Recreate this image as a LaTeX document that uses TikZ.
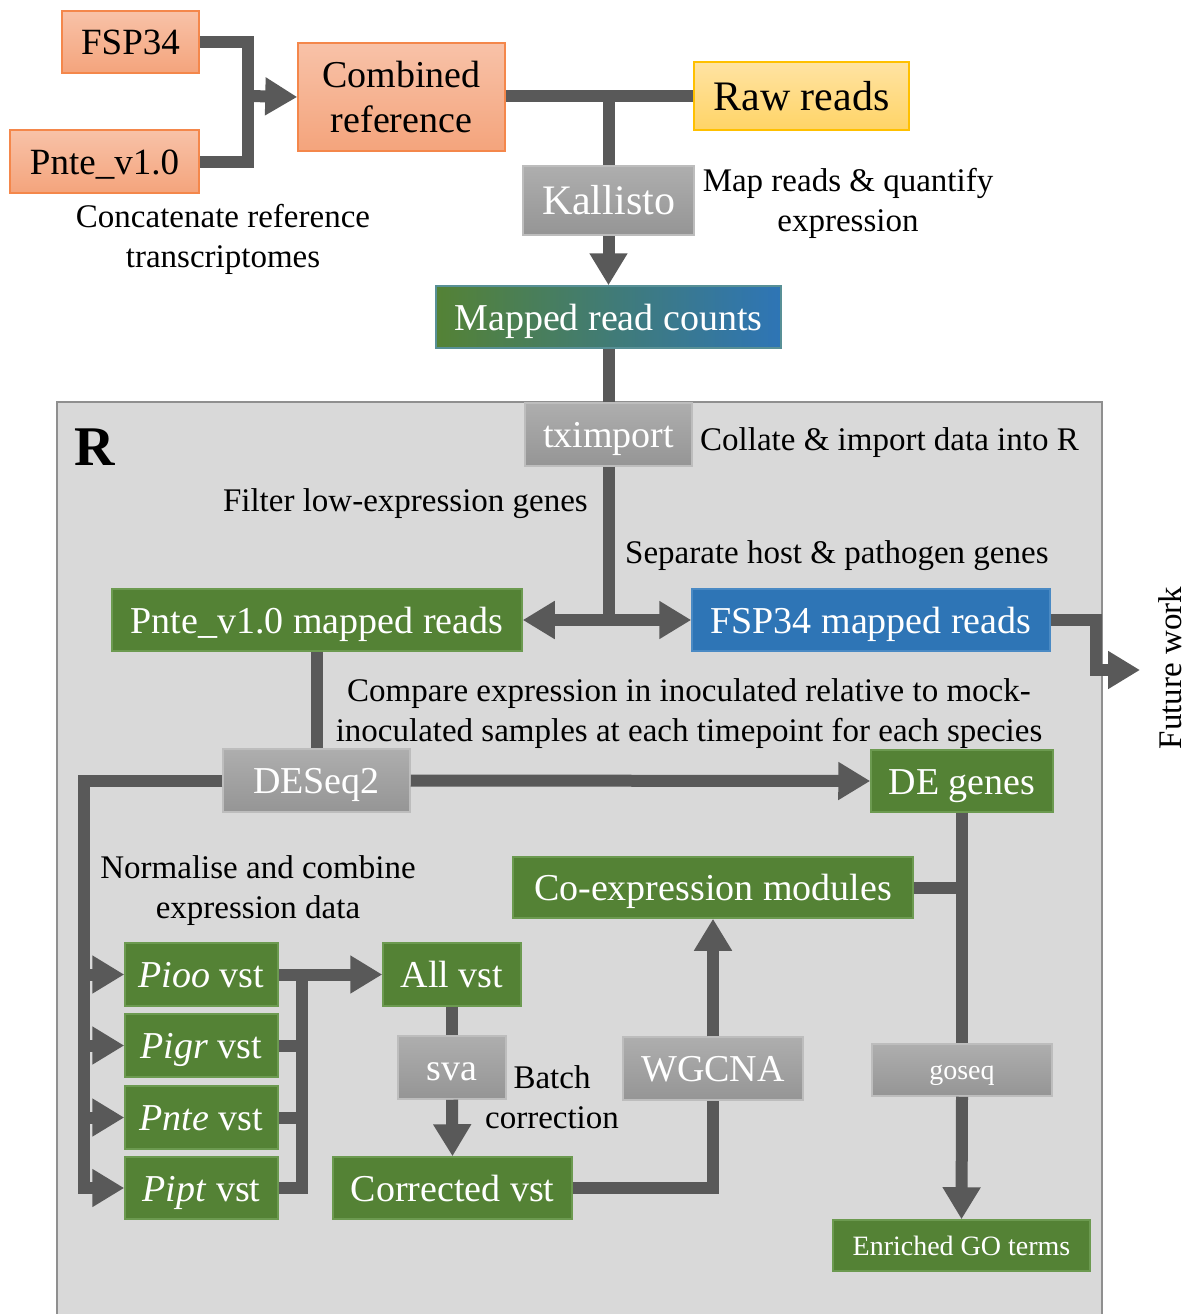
\documentclass[tikz,border=0pt]{standalone}
\usepackage{fontspec}
\setmainfont{Liberation Serif}
\usetikzlibrary{arrows.meta}
\definecolor{lc}{HTML}{595959}
\definecolor{grn}{HTML}{548235}
\definecolor{grnbrd}{HTML}{6C9A50}
\definecolor{blu}{HTML}{2E75B6}
\definecolor{blubrd}{HTML}{4A8AC4}
\definecolor{gtop}{HTML}{AEAEAE}
\definecolor{gbot}{HTML}{959595}
\definecolor{gbrd}{HTML}{BDBDBD}
\definecolor{stop}{HTML}{F8C2A8}
\definecolor{sbot}{HTML}{F4A47C}
\definecolor{sbrd}{HTML}{F4874B}
\definecolor{ytop}{HTML}{FFE3A3}
\definecolor{ybot}{HTML}{FFD466}
\definecolor{ybrd}{HTML}{FFC000}
\definecolor{regfill}{HTML}{D9D9D9}
\definecolor{regbrd}{HTML}{8F8F8F}
\tikzset{
  sz/.style 2 args={minimum width=#1pt, minimum height=#2pt},
  fbig/.style={font=\fontsize{42}{48}\selectfont, text height=37pt, text depth=9pt},
  fmid/.style={font=\fontsize{38}{44}\selectfont, text height=34pt, text depth=8pt},
  fsmall/.style={font=\fontsize{28}{33}\selectfont, text height=25pt, text depth=6pt},
  boxbase/.style={inner sep=0pt, line width=1.5pt},
  grnbox/.style={boxbase, fill=grn, draw=grnbrd, text=white},
  blubox/.style={boxbase, fill=blu, draw=blubrd, text=white},
  graybox/.style={boxbase, top color=gtop, bottom color=gbot, draw=gbrd, text=white},
  salbox/.style={boxbase, top color=stop, bottom color=sbot, draw=sbrd, text=black},
  yelbox/.style={boxbase, top color=ytop, bottom color=ybot, draw=ybrd, text=black},
  lbl/.style={font=\fontsize{33}{40}\selectfont, inner sep=0pt, align=center, text=black},
  conn/.style={draw=lc, line width=12pt},
  arr/.style={conn, -{Triangle[width=36pt,length=32pt]}},
}
\begin{document}
\begin{tikzpicture}[x=1pt,y=-1pt]
\useasboundingbox (0,0) rectangle (1189,1314);
% R region
\fill[regfill] (57,402) rectangle (1102,1314);
\draw[regbrd, line width=2.5pt] (57,1314) -- (57,402) -- (1102,402) -- (1102,1314);
\node[font=\fontsize{56}{60}\selectfont\bfseries, inner sep=0pt] (rlab) at (95,447) {R};

% top boxes
\node[salbox, font=\fontsize{37}{44}\selectfont, text height=33pt, text depth=8pt, sz={137}{62}] (fsp) at (130.5,42) {FSP34};
\node[salbox, font=\fontsize{37}{44}\selectfont, text height=33pt, text depth=8pt, sz={189}{63}] (pnte) at (104.5,161.5) {Pnte\_v1.0};
\node[salbox, font=\fontsize{38}{45}\selectfont, align=center, sz={207}{108}] (comb) at (401.5,97) {Combined\\reference};
\node[yelbox, fbig, sz={215}{68}] (raw) at (801.5,96) {Raw reads};
\node[graybox, fbig, sz={171}{69}] (kal) at (608.5,200.5) {Kallisto};
\node[boxbase, left color=grn, right color=blu, draw=blubrd!60!grnbrd, text=white, font=\fontsize{38}{44}\selectfont, text height=34pt, text depth=8pt, sz={345}{62}] (mrc) at (608.5,317) {Mapped read counts};
\node[graybox, fmid, sz={167}{63}] (txi) at (608.5,434.5) {tximport};
\node[grnbox, fmid, sz={410}{62}] (pm) at (317,620) {Pnte\_v1.0 mapped reads};
\node[blubox, fmid, sz={358}{62}] (fm) at (871,620) {FSP34 mapped reads};
\node[graybox, fmid, sz={187}{63}] (des) at (316.5,780.5) {DESeq2};
\node[grnbox, fmid, sz={182}{62}] (deg) at (962,781) {DE genes};
\node[grnbox, fmid, sz={400}{61}] (coex) at (713,887.5) {Co-expression modules};
\node[grnbox, fmid, sz={153}{63}] (pioo) at (201.5,974.5) {\textit{Pioo} vst};
\node[grnbox, fmid, sz={153}{63}] (pigr) at (201.5,1045.5) {\textit{Pigr} vst};
\node[grnbox, fmid, sz={153}{63}] (pntev) at (201.5,1117.5) {\textit{Pnte} vst};
\node[grnbox, fmid, sz={153}{62}] (pipt) at (201.5,1188) {\textit{Pipt} vst};
\node[grnbox, fmid, sz={138}{63}] (allv) at (452,974.5) {All vst};
\node[graybox, fmid, sz={108}{63}] (sva) at (452,1067.5) {sva};
\node[grnbox, fmid, sz={239}{62}] (cor) at (452.5,1188) {Corrected vst};
\node[graybox, fmid, sz={180}{63}] (wg) at (713,1068.5) {WGCNA};
\node[graybox, fsmall, sz={180}{52}] (gos) at (962,1070) {goseq};
\node[grnbox, fsmall, sz={257}{51}] (eng) at (961.5,1245.5) {Enriched GO terms};

% labels
\node[lbl] (l1) at (223,239) {Concatenate reference\\transcriptomes};
\node[lbl] (l2) at (848,203) {Map reads \& quantify\\expression};
\node[lbl, anchor=west] (l3) at (700,443) {Collate \& import data into R};
\node[lbl, anchor=east] (l4) at (588,504) {Filter low-expression genes};
\node[lbl, anchor=west] (l5) at (625,556) {Separate host \& pathogen genes};
\node[lbl] (l6) at (689,714) {Compare expression in inoculated relative to mock-\\inoculated samples at each timepoint for each species};
\node[lbl] (l7) at (258,891) {Normalise and combine\\expression data};
\node[lbl] (l8) at (552,1097) {Batch\\correction};
\node[lbl, rotate=90] (l9) at (1170,668) {Future work};

% connectors
\coordinate (j1) at (248,96);
\draw[conn] (fsp.east) -| (j1) |- (pnte.east);
\draw[arr] (j1) -- (comb.west);
\draw[conn] (comb.east |- raw.west) -- (raw.west);
\draw[conn] (raw.west -| kal.north) -- (kal.north);
\draw[arr] (kal.south) -- (mrc.north);
\draw[conn] (mrc.south) -- (txi.north);
\coordinate (split) at (608.5,620);
\draw[conn] (txi.south) -- (split);
\draw[arr] (split) -- (pm.east);
\draw[arr] (split) -- (fm.west);
\coordinate (fw1) at (1096,670);
\coordinate (fwtip) at (1140,670);
\draw[arr] (fm.east) -| (fw1) -- (fwtip);
\draw[conn] (pm.south) -- (pm.south |- des.north);
\draw[arr] (des.east) -- (deg.west);
\coordinate (lb) at (84,1188);
\draw[arr] (des.west) -| (lb) -- (pipt.west);
\draw[arr] (pioo.west -| lb) -- (pioo.west);
\draw[arr] (pigr.west -| lb) -- (pigr.west);
\draw[arr] (pntev.west -| lb) -- (pntev.west);
\coordinate (rb) at (302,974.5);
\draw[arr] (pioo.east) -- (allv.west);
\draw[conn] (rb) |- (pipt.east);
\draw[conn] (pigr.east) -- (pigr.east -| rb);
\draw[conn] (pntev.east) -- (pntev.east -| rb);
\draw[conn] (allv.south) -- (sva.north);
\draw[arr] (sva.south) -- (cor.north);
\draw[conn] (cor.east) -| (wg.south);
\draw[arr] (wg.north) -- (coex.south);
\draw[conn] (deg.south) -- (gos.north);
\draw[conn] (coex.east) -- (coex.east -| deg.south);
\draw[arr] (gos.south) -- (eng.north);
\end{tikzpicture}
\end{document}
